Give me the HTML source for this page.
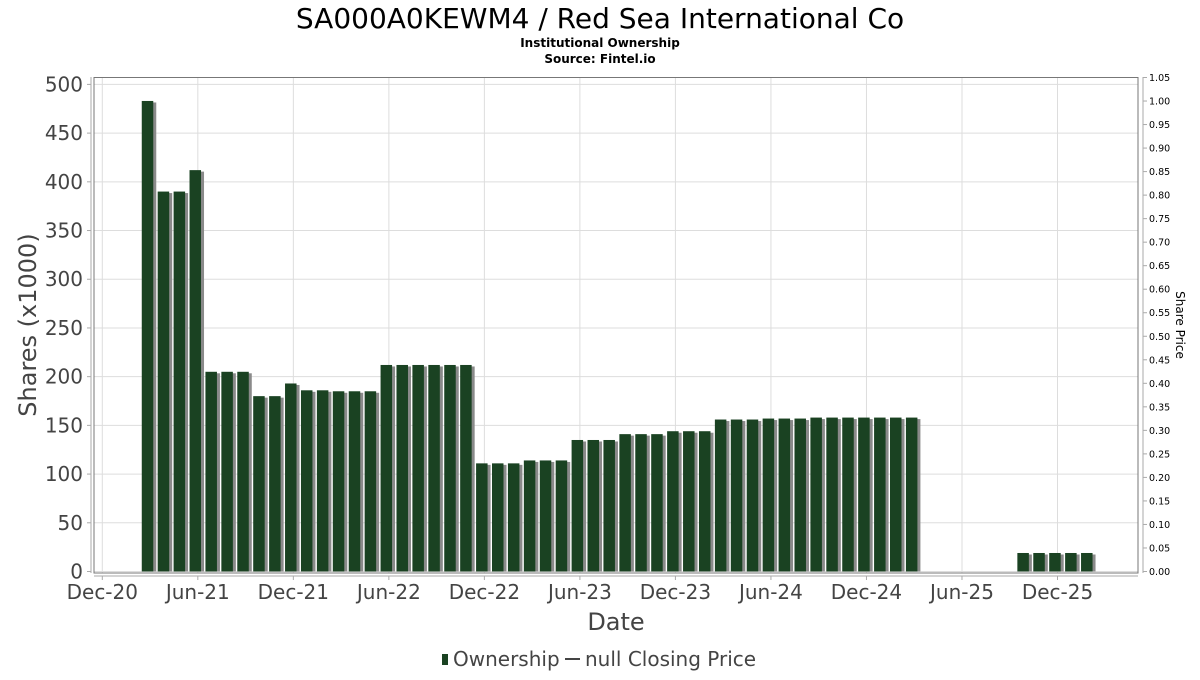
<!DOCTYPE html>
<html><head><meta charset="utf-8"><style>
body{margin:0;background:#fff;}
svg text{font-family:"DejaVu Sans","Liberation Sans",sans-serif;}
</style></head><body>
<svg id="chart" width="1200" height="675" xmlns="http://www.w3.org/2000/svg">
<text x="600" y="28" text-anchor="middle" font-size="28" fill="#000">SA000A0KEWM4 / Red Sea International Co</text>
<text x="600" y="47" text-anchor="middle" font-size="12" font-weight="bold" fill="#000">Institutional Ownership</text>
<text x="600" y="63" text-anchor="middle" font-size="12" font-weight="bold" fill="#000">Source: Fintel.io</text>
<g id="grid"></g>
<g id="bars"></g>
<rect x="94" y="77.5" width="1044" height="495.5" fill="none" stroke="#777" stroke-width="1"/>
<line x1="91" y1="77" x2="91" y2="573" stroke="#aaa"/>
<line x1="1143" y1="77" x2="1143" y2="573" stroke="#aaa"/>
<line x1="94" y1="576" x2="1138" y2="576" stroke="#aaa"/>
<g id="axes"></g>
<text transform="translate(36,325) rotate(-90)" text-anchor="middle" font-size="24" fill="#444">Shares (x1000)</text>
<text transform="translate(1176,325) rotate(90)" text-anchor="middle" font-size="12" fill="#000">Share Price</text>
<text x="616" y="630" text-anchor="middle" font-size="24" fill="#444">Date</text>
<g>
<rect x="442" y="654" width="6" height="11" fill="#1a4222"/>
<text x="453" y="666" font-size="20" fill="#444">Ownership</text>
<line x1="565" y1="659" x2="580" y2="659" stroke="#444" stroke-width="2"/>
<text x="585" y="666" font-size="20" fill="#444">null Closing Price</text>
</g>
</svg>
<script>
const months = [3,4,5,6,7,8,9,10,11,12,13,14,15,16,17,18,19,20,21,22,23,24,25,26,27,28,29,30,31,32,33,34,35,36,37,38,39,40,41,42,43,44,45,46,47,48,49,50,51,58,59,60,61,62];
const shares = [483,390,390,412,205,205,205,180,180,193,186,186,185,185,185,212,212,212,212,212,212,111,111,111,114,114,114,135,135,135,141,141,141,144,144,144,156,156,156,157,157,157,158,158,158,158,158,158,158,19,19,19,19,19];
const xTickLabels = ["Dec-20","Jun-21","Dec-21","Jun-22","Dec-22","Jun-23","Dec-23","Jun-24","Dec-24","Jun-25","Dec-25"];
const yTicks = [0,50,100,150,200,250,300,350,400,450,500];
const y2Ticks = [0,0.05,0.1,0.15,0.2,0.25,0.3,0.35,0.4,0.45,0.5,0.55,0.6,0.65,0.7,0.75,0.8,0.85,0.9,0.95,1.0,1.05];

const NS="http://www.w3.org/2000/svg";
const xS = m => 102.3 + m*15.92;
const yS = v => 571.5 - v*0.9742;
const y2S = p => 571.5 - p*(571.5-77.5)/1.05;
function mk(tag, attrs, parent){const e=document.createElementNS(NS,tag);for(const k in attrs)e.setAttribute(k,attrs[k]);parent.appendChild(e);return e;}
const grid=document.getElementById('grid'), bars=document.getElementById('bars'), axes=document.getElementById('axes');
yTicks.forEach(v=>{
  const l=mk('line',{x1:94,x2:1138,y1:yS(v),y2:yS(v),stroke:'#ddd'},grid);
  
  
  const t=mk('line',{x1:87,x2:91,y1:yS(v),y2:yS(v),stroke:'#aaa'},axes);
  
  
  const tx=mk('text',{x:83,y:yS(v)+7,'text-anchor':'end','font-size':20,fill:'#444'},axes);
  tx.textContent=v;
  
  
});
y2Ticks.forEach(p=>{
  const t=mk('line',{x1:1143,x2:1147,y1:y2S(p),y2:y2S(p),stroke:'#aaa'},axes);
  
  
  const tx=mk('text',{x:1149,y:y2S(p)+3.5,'font-size':9.5,fill:'#000'},axes);
  tx.textContent=p.toFixed(2);
  
  
});
xTickLabels.forEach((lab,i)=>{
  const x=xS(i*6);
  const g=mk('line',{x1:x,x2:x,y1:78,y2:573,stroke:'#ddd'},grid);
  
  
  const t=mk('line',{x1:x,x2:x,y1:576,y2:580,stroke:'#aaa'},axes);
  
  
  const tx=mk('text',{x:x,y:599,'text-anchor':'middle','font-size':20,fill:'#444'},axes);
  tx.textContent=lab;
  
  
});
months.forEach((m,i)=>{
  const left=xS(m)-8.3, top=yS(shares[i]), h=yS(0)-top;
  const s=mk('rect',{x:left+3,y:top+1.5,width:11.5,height:h-1.5,fill:'#8a8a8a'},bars);
  
  
  const b=mk('rect',{x:left,y:top,width:11.5,height:h,fill:'#1a4222'},bars);
  
  
});
</script>
</body></html>
